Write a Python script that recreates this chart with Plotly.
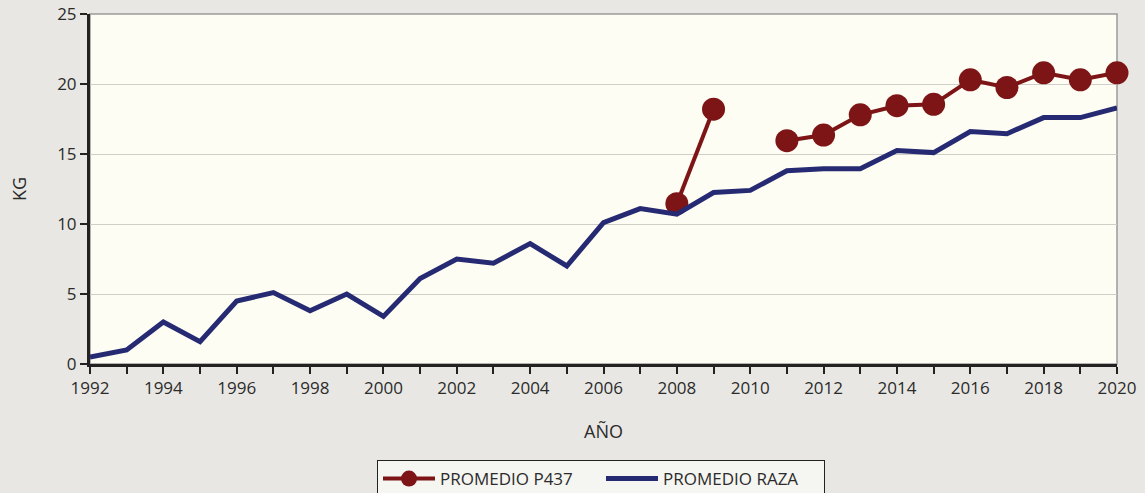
import plotly.graph_objects as go

years = list(range(1992, 2021))
promedio_raza = [0.5, 1.0, 3.0, 1.6, 4.5, 5.1, 3.8, 5.0, 3.4, 6.1, 7.5, 7.2, 8.6, 7.0,
                 10.1, 11.1, 10.7, 12.25, 12.4, 13.8, 13.95, 13.95, 15.25, 15.1,
                 16.6, 16.45, 17.6, 17.6, 18.3]
p437_years = list(range(2008, 2021))
promedio_p437 = [11.45, 18.2, None, 15.95, 16.35, 17.8, 18.45, 18.55, 20.3, 19.75,
                 20.8, 20.3, 20.8]
x_tick_labels = [str(y) if y % 2 == 0 else "" for y in years]
y_ticks = [0, 5, 10, 15, 20, 25]

FONT = "Open Sans"
TXT = "#2b2b2b"

fig = go.Figure()
fig.add_trace(go.Scatter(
    x=p437_years, y=promedio_p437, name="PROMEDIO P437", mode="lines+markers",
    line=dict(color="#7d1416", width=4), marker=dict(size=23, color="#7d1416"),
    connectgaps=False, cliponaxis=False))
fig.add_trace(go.Scatter(
    x=years, y=promedio_raza, name="PROMEDIO RAZA", mode="lines",
    line=dict(color="#262a72", width=5), cliponaxis=False))

fig.update_layout(
    width=1145, height=493,
    margin=dict(l=90, r=28, t=14, b=129, autoexpand=False),
    paper_bgcolor="#e8e7e4", plot_bgcolor="#fdfdf3",
    font=dict(family=FONT, color=TXT, size=17),
    showlegend=True,
    legend=dict(orientation="h", x=377 / 1145, xanchor="left", xref="container",
                y=1 - 460 / 493, yanchor="top", yref="container",
                bordercolor="#222", borderwidth=1, bgcolor="rgba(250,250,247,0.75)",
                font=dict(size=17, color=TXT), traceorder="normal",
                itemwidth=52, entrywidth=156, entrywidthmode="pixels"),
    xaxis=dict(range=[1992, 2020], tickvals=years, ticktext=x_tick_labels,
               ticks="outside", ticklen=7, tickwidth=2, tickcolor="#222",
               showline=True, linecolor="#222", linewidth=3, showgrid=False,
               zeroline=False, tickangle=0, automargin=False,
               title=dict(text="AÑO", font=dict(size=18, color=TXT), standoff=27)),
    yaxis=dict(range=[0, 25], tickvals=y_ticks, ticks="outside", ticklen=7,
               tickwidth=2, tickcolor="#222", showline=True, linecolor="#222",
               linewidth=3, showgrid=True, gridcolor="#cfcfc8", gridwidth=1,
               zeroline=False, automargin=False,
               title=dict(text="KG", font=dict(size=18, color=TXT), standoff=26)),
    shapes=[dict(type="rect", xref="x domain", yref="y domain", x0=0, x1=1, y0=0, y1=1,
                 line=dict(color="#9a9a9a", width=1.5), layer="below")],
)

fig.write_html("out.html", config={"displayModeBar": False},
               post_script="document.body.style.margin='0';document.body.style.overflow='hidden';")
